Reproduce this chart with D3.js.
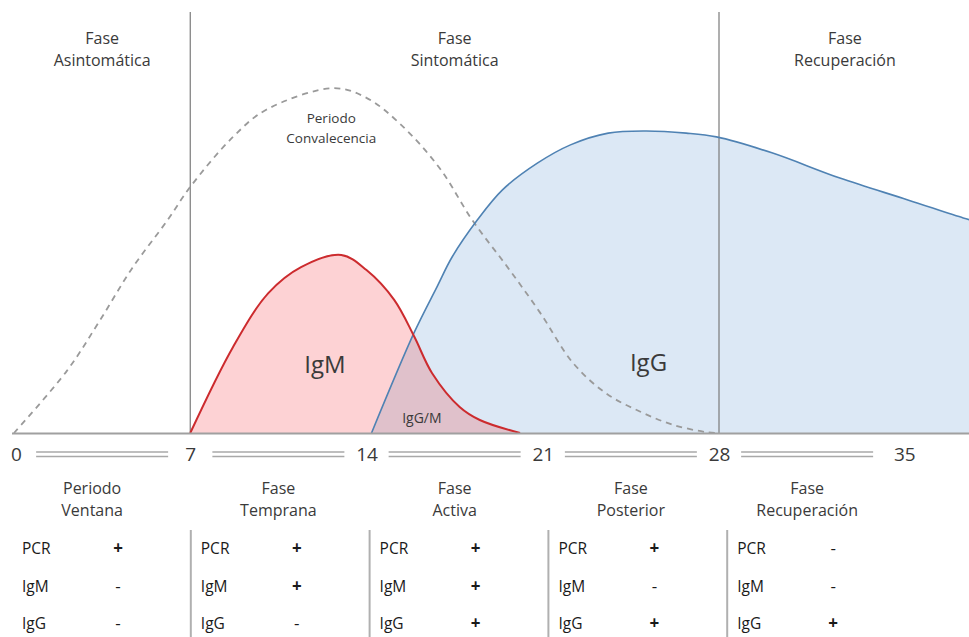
<!DOCTYPE html>
<html lang="es">
<head>
    <meta charset="UTF-8">
    <title>Fases COVID-19 - PCR, IgM, IgG</title>
    <script src="https://cdnjs.cloudflare.com/ajax/libs/d3/7.8.5/d3.min.js"></script>
    <style>
        * { margin: 0; padding: 0; box-sizing: border-box; }
        body { background: #fff; width: 969px; height: 637px; overflow: hidden; }
        .lbl { font-family: 'Open Sans', sans-serif; fill: #3a3a3a; }
        .tbl { font-family: 'Open Sans', sans-serif; fill: #1a1a1a; font-size: 15.5px; }
    </style>
</head>
<body>
    <div id="chart"></div>

    <script>
        // Curves (day, relative level 0-100)
        const convDays   = [0, 2.1, 3.4, 4.7, 6.1, 7, 8.7, 10, 12.7, 14, 15.3, 16.9, 18.2, 19.6, 20.9, 22.2, 23.5, 24.9, 26.2, 27.5, 27.9];
        const convValues = [0, 14.8, 26.7, 39.3, 50.7, 58.6, 70.5, 76.9, 82.1, 79.8, 73.8, 63.1, 50.7, 39.5, 28.6, 16.7, 9.5, 5.0, 1.9, 0.2, 0];

        const igmDays   = [7, 8.7, 10.1, 11.4, 13, 14, 15.1, 15.9, 16.6, 17.7, 18.5, 20.1];
        const igmValues = [0, 20.5, 33.3, 39.5, 42.4, 38.8, 31.7, 22.9, 14.3, 6.2, 3.1, 0];

        const iggDays   = [14.2, 15.9, 16.8, 17.4, 18.4, 19.4, 20.8, 22.1, 23.6, 25.1, 26.7, 27.9, 30.1, 32.8, 35.5, 37.7, 38];
        const iggValues = [0, 24, 34.8, 41.9, 50.7, 57.9, 64.3, 68.6, 71.4, 71.9, 71.4, 70.5, 66.7, 60.7, 55.5, 51.2, 50.7];

        const tickDays = [0, 7, 14, 21, 28, 35];
        const phaseLines = [7, 28];

        const topPhases = [
            { from: 0, to: 7, lines: ['Fase', 'Asintomática'] },
            { from: 7, to: 28, lines: ['Fase', 'Sintomática'] },
            { from: 28, to: 38, lines: ['Fase', 'Recuperación'] }
        ];
        const bottomPhases = [
            ['Periodo', 'Ventana'],
            ['Fase', 'Temprana'],
            ['Fase', 'Activa'],
            ['Fase', 'Posterior'],
            ['Fase', 'Recuperación']
        ];

        const tests = ['PCR', 'IgM', 'IgG'];
        const results = [
            ['+', '-', '-'],
            ['+', '+', '-'],
            ['+', '+', '+'],
            ['+', '-', '+'],
            ['-', '-', '+']
        ];

        const W = 969, H = 637;
        const baseY = 433;

        const svg = d3.select('#chart').append('svg')
            .attr('width', W)
            .attr('height', H);

        const x = d3.scaleLinear().domain([0, 28]).range([14, 719]);
        const y = d3.scaleLinear().domain([0, 100]).range([baseY, 13]);

        const zip = (ds, vs) => ds.map((d, i) => ({ day: d, v: vs[i] }));
        const conv = zip(convDays, convValues);
        const igm = zip(igmDays, igmValues);
        const igg = zip(iggDays, iggValues);

        const smooth = d3.curveCatmullRom.alpha(0.5);

        const area = d3.area()
            .x(d => x(d.day))
            .y0(y(0))
            .y1(d => Math.min(y(d.v), y(0)))
            .curve(smooth);

        const line = d3.line()
            .x(d => x(d.day))
            .y(d => y(d.v))
            .curve(smooth);

        // clip for the IgG/IgM overlap
        svg.append('clipPath').attr('id', 'igmClip')
            .append('path').attr('d', area(igm));

        svg.append('path').attr('d', area(igm)).attr('fill', '#fdd2d4');
        svg.append('path').attr('d', area(igg)).attr('fill', '#dce8f5');
        svg.append('path').attr('d', area(igg))
            .attr('clip-path', 'url(#igmClip)')
            .attr('fill', '#e0c1cb');

        // phase separators
        svg.selectAll('.phase-line')
            .data(phaseLines)
            .enter()
            .append('line')
            .attr('x1', d => x(d)).attr('x2', d => x(d))
            .attr('y1', 12).attr('y2', baseY)
            .attr('stroke', '#7a7a7a')
            .attr('stroke-width', 1.2);

        // convalescence curve
        svg.append('path')
            .attr('d', line(conv))
            .attr('fill', 'none')
            .attr('stroke', '#9a9a9a')
            .attr('stroke-width', 1.8)
            .attr('stroke-dasharray', '6,5');

        svg.append('path')
            .attr('d', line(igg))
            .attr('fill', 'none')
            .attr('stroke', '#4f82b3')
            .attr('stroke-width', 1.6);

        svg.append('path')
            .attr('d', line(igm))
            .attr('fill', 'none')
            .attr('stroke', '#cc2b2e')
            .attr('stroke-width', 2);

        // baseline
        svg.append('line')
            .attr('x1', 12).attr('x2', W)
            .attr('y1', baseY + 0.5).attr('y2', baseY + 0.5)
            .attr('stroke', '#a0a0a0')
            .attr('stroke-width', 2);

        // tick labels
        const axis = d3.axisBottom(x)
            .tickValues(tickDays)
            .tickSize(0)
            .tickPadding(0);

        const gAxis = svg.append('g')
            .attr('transform', `translate(0,${baseY + 13})`)
            .call(axis);
        gAxis.select('.domain').remove();
        gAxis.selectAll('text')
            .attr('class', 'lbl')
            .attr('dy', '0.8em')
            .attr('dx', d => d === 35 ? 9 : (d === 0 ? 2 : 0))
            .style('font-size', '19px')
            .style('fill', '#3a3a3a');

        // double rules between ticks
        const mids = d3.pairs(tickDays).map(p => (p[0] + p[1]) / 2);
        [452, 456.5].forEach(yy => {
            svg.selectAll(null)
                .data(mids)
                .enter()
                .append('line')
                .attr('x1', d => x(d) - 66)
                .attr('x2', d => x(d) + 66)
                .attr('y1', yy).attr('y2', yy)
                .attr('stroke', '#a8a8a8')
                .attr('stroke-width', 1.6);
        });

        // top phase labels
        topPhases.forEach(p => {
            const t = svg.append('text')
                .attr('class', 'lbl')
                .attr('text-anchor', 'middle')
                .style('font-size', '16px');
            p.lines.forEach((s, i) => {
                t.append('tspan')
                    .attr('x', x((p.from + p.to) / 2))
                    .attr('y', 44 + i * 22)
                    .text(s);
            });
        });

        // bottom phase labels
        bottomPhases.forEach((p, k) => {
            const t = svg.append('text')
                .attr('class', 'lbl')
                .attr('text-anchor', 'middle')
                .style('font-size', '16px');
            p.forEach((s, i) => {
                t.append('tspan')
                    .attr('x', x(mids[k]) - (k === 0 ? 10 : 0))
                    .attr('y', 494 + i * 22)
                    .text(s);
            });
        });

        // curve labels
        const conT = svg.append('text')
            .attr('class', 'lbl')
            .attr('text-anchor', 'middle')
            .style('font-size', '13.5px');
        ['Periodo', 'Convalecencia'].forEach((s, i) => {
            conT.append('tspan')
                .attr('x', x(12.6))
                .attr('y', 123 + i * 20)
                .text(s);
        });

        svg.append('text')
            .attr('class', 'lbl')
            .attr('x', x(12.35)).attr('y', 373)
            .attr('text-anchor', 'middle')
            .style('font-size', '24px')
            .text('IgM');

        svg.append('text')
            .attr('class', 'lbl')
            .attr('x', x(25.2)).attr('y', 371)
            .attr('text-anchor', 'middle')
            .style('font-size', '24px')
            .text('IgG');

        svg.append('text')
            .attr('class', 'lbl')
            .attr('x', x(16.2)).attr('y', 423)
            .attr('text-anchor', 'middle')
            .style('font-size', '14px')
            .text('IgG/M');

        // results table
        const colW = 178.8, col0 = 12;
        const table = svg.append('g');
        results.forEach((col, c) => {
            const cx = col0 + c * colW;
            if (c > 0) {
                table.append('line')
                    .attr('x1', cx).attr('x2', cx)
                    .attr('y1', 530).attr('y2', H)
                    .attr('stroke', '#b0b0b0')
                    .attr('stroke-width', 2);
            }
            tests.forEach((t, r) => {
                const yy = 554 + r * 37.5;
                table.append('text')
                    .attr('class', 'tbl')
                    .attr('x', cx + 10).attr('y', yy)
                    .text(t);
                table.append('text')
                    .attr('class', 'tbl')
                    .attr('x', cx + 106).attr('y', yy)
                    .attr('text-anchor', 'middle')
                    .style('font-weight', col[r] === '+' ? 'bold' : 'normal')
                    .style('font-size', '17px')
                    .text(col[r]);
            });
        });
    </script>
</body>
</html>
